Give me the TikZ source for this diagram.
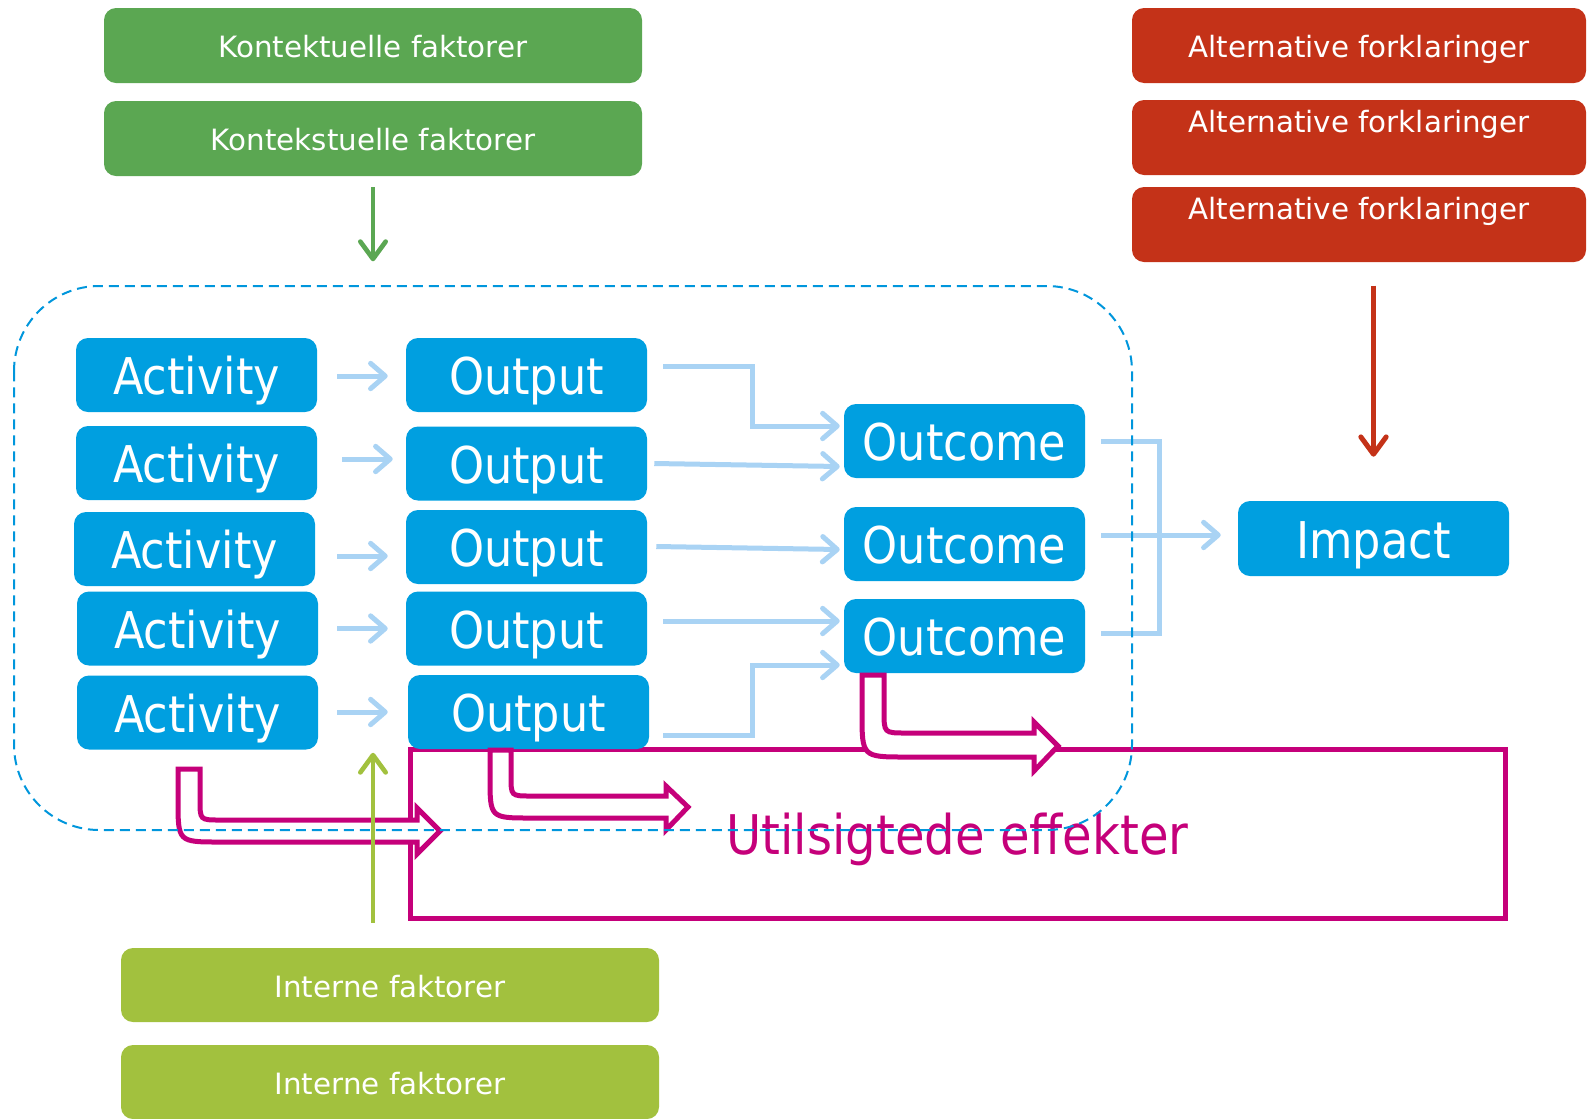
\documentclass[tikz,border=0pt]{standalone}
\usepackage{fontspec}
\setmainfont{DejaVu Sans}
\newfontfamily\bigfont[FakeStretch=0.88]{DejaVu Sans}
\usetikzlibrary{calc,arrows.meta}

\definecolor{boxblue}{RGB}{0,159,224}
\definecolor{lineblue}{RGB}{169,211,244}
\definecolor{frameblue}{RGB}{0,150,220}
\definecolor{kontgreen}{RGB}{91,167,82}
\definecolor{altred}{RGB}{196,50,24}
\definecolor{intgreen}{RGB}{162,193,62}
\definecolor{effmagenta}{RGB}{197,0,122}

\tikzset{
  bluebox/.style={fill=boxblue, rounded corners=9pt, minimum width=180.75pt, minimum height=55.5pt, inner sep=0pt, text=white, font=\bigfont\fontsize{38pt}{40pt}\selectfont, text height=29.5pt, text depth=0pt},
  smallbox/.style={rounded corners=9pt, minimum height=56.25pt, inner sep=0pt, text=white, font=\fontsize{22pt}{26pt}\selectfont, text height=18pt, text depth=0pt},
  kontbox/.style={smallbox, fill=kontgreen, minimum width=403.5pt},
  altbox/.style={smallbox, fill=altred, minimum width=340.5pt},
  altlow/.style={altbox, text depth=25.5pt},
  intbox/.style={smallbox, fill=intgreen, minimum width=403.5pt, minimum height=55.5pt},
  effbox/.style={draw=effmagenta, line width=3.75pt, minimum width=821.25pt, minimum height=126.75pt, inner sep=0pt, text=effmagenta, font=\bigfont\fontsize{41pt}{44pt}\selectfont, text height=32pt, text depth=0pt},
  conn/.style={draw=lineblue, line width=3.75pt},
  connarrow/.style={conn, -{Straight Barb[length=11pt,width=19pt,round]}},
  tube/.style={draw=effmagenta, line width=3.75pt, fill=white},
  frame/.style={draw=frameblue, line width=1.5pt, dash pattern=on 7.5pt off 4.5pt, rounded corners=64pt},
  factorarrow/.style={line width=3.5pt, -{Straight Barb[length=13pt,width=19pt,round]}}
}

\begin{document}
\begin{tikzpicture}[x=0.75pt,y=0.75pt,yscale=-1,xscale=1]
  \useasboundingbox (0,0) rectangle (1587,1118);

  % Kontekstuelle faktorer
  \node[kontbox] (kont1) at (373,45.5) {Kontektuelle faktorer};
  \node[kontbox] (kont2) at (373,138.5) {Kontekstuelle faktorer};

  % Alternative forklaringer
  \node[altbox] (alt1) at (1359,45.5) {Alternative forklaringer};
  \node[altlow] (alt2) at (1359,137.5) {Alternative forklaringer};
  \node[altlow] (alt3) at (1359,224.5) {Alternative forklaringer};

  % Interne faktorer
  \node[intbox] (int1) at (390,985) {Interne faktorer};
  \node[intbox] (int2) at (390,1082) {Interne faktorer};

  % Utilsigtede effekter
  \node[effbox] (ueff) at (957.5,833.5) {Utilsigtede effekter};

  % Activity
  \node[bluebox] (act1) at (196.5,375) {Activity};
  \node[bluebox] (act2) at (196.5,463) {Activity};
  \node[bluebox] (act3) at (194.5,549) {Activity};
  \node[bluebox] (act4) at (197.5,628.5) {Activity};
  \node[bluebox] (act5) at (197.5,712.5) {Activity};

  % Output
  \node[bluebox] (out1) at (526.5,375) {Output};
  \node[bluebox] (out2) at (526.5,463.5) {Output};
  \node[bluebox] (out3) at (526.5,547) {Output};
  \node[bluebox] (out4) at (526.5,628.5) {Output};
  \node[bluebox] (out5) at (528.5,712) {Output};

  % Outcome
  \node[bluebox] (oc1) at (964.5,441) {Outcome};
  \node[bluebox] (oc2) at (964.5,544) {Outcome};
  \node[bluebox] (oc3) at (964.5,636) {Outcome};

  % Impact
  \node[bluebox, minimum width=203.25pt, minimum height=56.25pt] (impact) at (1373.5,538.5) {Impact};

  % Activity -> Output
  \draw[connarrow] ($(act1.east)+(20,1)$) -- ($(out1.west)+(-18,1)$);
  \draw[connarrow] ($(act2.east)+(25,-4)$) -- ($(out2.west)+(-13,-4.5)$);
  \draw[connarrow] ($(act3.east)+(22,7)$) -- ($(out3.west)+(-18,9)$);
  \draw[connarrow] ($(act4.east)+(19,0)$) -- ($(out4.west)+(-18,0)$);
  \draw[connarrow] ($(act5.east)+(19,-0.5)$) -- ($(out5.west)+(-20,0)$);

  % Output -> Outcome
  \draw[connarrow] ($(out1.east)+(16,-9)$) -- ++(89,0) |- ($(oc1.west)+(-4,-15)$);
  \draw[connarrow] ($(out2.east)+(7,0)$) -- ($(oc1.west)+(-4,25.5)$);
  \draw[connarrow] ($(out3.east)+(9,-0.5)$) -- ($(oc2.west)+(-4,5.5)$);
  \draw[connarrow] ($(out4.east)+(16,-7.5)$) -- ($(oc3.west)+(-4,-15)$);
  \draw[connarrow] ($(out5.east)+(14,23)$) -- ++(89,0) |- ($(oc3.west)+(-4,29)$);

  % Outcome -> Impact
  \draw[conn] ($(oc1.east)+(16,0)$) -| ($(oc3.east)+(74,-3)$) -- ($(oc3.east)+(16,-3)$);
  \draw[connarrow] ($(oc2.east)+(16,-9)$) -- ($(impact.west)+(-17,-3.5)$);

  %Shape: Arrow [Activity]
  \draw[tube] (178,769) -- (200,769) -- (200,800) .. controls (200,820) .. (220,820) -- (417,820) -- (417,808) -- (440,831) -- (417,854) -- (417,842) -- (220,842) .. controls (178,842) .. (178,800) -- cycle;
  %Shape: Arrow [Output]
  \draw[tube] (490,750) -- (511,750) -- (511,776) .. controls (511,796) .. (531,796) -- (666,796) -- (666,786) -- (688,807) -- (666,830) -- (666,818) -- (531,818) .. controls (490,818) .. (490,777) -- cycle;
  %Shape: Arrow [Outcome]
  \draw[tube] (862,675) -- (884,675) -- (884,711) .. controls (884,733) .. (906,733) -- (1034,733) -- (1034,722) -- (1058,746) -- (1034,771) -- (1034,757) -- (906,757) .. controls (862,757) .. (862,713) -- cycle;

  %Shape: Dashed frame
  \draw[frame] (14,286) rectangle (1132,830);

  % factor arrows
  \draw[factorarrow, kontgreen] ($(kont2.south)+(0,11)$) -- ($(kont2.south)+(0,85)$);
  \draw[factorarrow, altred, line width=3.75pt] ($(impact.north)+(0,-215)$) -- ($(impact.north)+(0,-44)$);
  \draw[factorarrow, intgreen] ($(int1.north)+(-17,-25)$) -- ($(int1.north)+(-17,-195)$);
\end{tikzpicture}
\end{document}
